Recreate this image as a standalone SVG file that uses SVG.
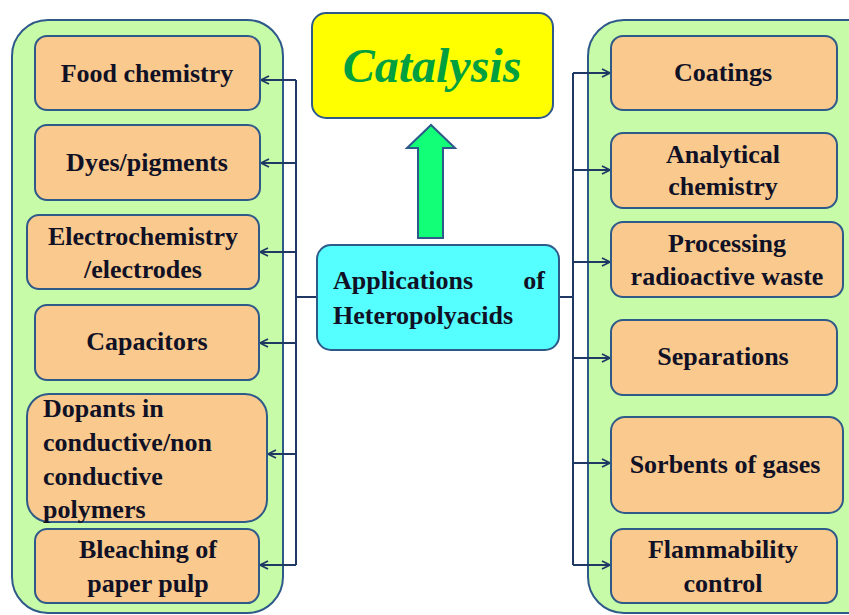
<svg xmlns="http://www.w3.org/2000/svg" width="849" height="615" viewBox="0 0 849 615">
<defs>
<marker id="ah" viewBox="0 0 10 10" refX="9" refY="5" markerWidth="10" markerHeight="10" markerUnits="userSpaceOnUse" orient="auto">
<path d="M1,1 L9,5 L1,9" fill="none" stroke="#1f3864" stroke-width="1.8"/>
</marker>
<style>
.cont{fill:#c8fba8;stroke:#2e5a8a;stroke-width:2}
.box{fill:#f9c98e;stroke:#2e5a8a;stroke-width:2}
.t{font-family:"Liberation Serif",serif;font-weight:bold;font-size:26px;fill:#111126}
.c{text-anchor:middle}
.con{fill:none;stroke:#1f3864;stroke-width:2}
</style>
</defs>
<rect width="849" height="615" fill="#ffffff"/>
<rect class="cont" x="12" y="20" width="271" height="593" rx="36"/>
<rect class="cont" x="588" y="20" width="300" height="593" rx="36"/>
<g id="connectors">
<path class="con" d="M317,297 H296 M296,80 V565 M573,73 V565 M559,297 H573"/>
<path class="con" marker-end="url(#ah)" d="M296,80 H261"/>
<path class="con" marker-end="url(#ah)" d="M296,163 H261"/>
<path class="con" marker-end="url(#ah)" d="M296,252 H260"/>
<path class="con" marker-end="url(#ah)" d="M296,343 H260"/>
<path class="con" marker-end="url(#ah)" d="M296,454 H268"/>
<path class="con" marker-end="url(#ah)" d="M296,565 H260"/>
<path class="con" marker-end="url(#ah)" d="M573,73 H610"/>
<path class="con" marker-end="url(#ah)" d="M573,170 H610"/>
<path class="con" marker-end="url(#ah)" d="M573,262 H610"/>
<path class="con" marker-end="url(#ah)" d="M573,358 H610"/>
<path class="con" marker-end="url(#ah)" d="M573,463 H610"/>
<path class="con" marker-end="url(#ah)" d="M573,565 H610"/>
<path d="M418,238 V148 H407 L431,125 L455,148 H443 V238 Z" fill="#12ff78" stroke="#2e5a8a" stroke-width="2"/>
</g>
<g id="catalysis">
<rect x="312" y="13" width="241" height="105" rx="14" fill="#ffff00" stroke="#2e5a8a" stroke-width="2"/>
<text x="432" y="82" text-anchor="middle" font-family="Liberation Serif, serif" font-weight="bold" font-style="italic" font-size="48" fill="#00a040">Catalysis</text>
</g>
<g id="center">
<rect x="317" y="245" width="242" height="105" rx="14" fill="#55ffff" stroke="#2e5a8a" stroke-width="2"/>
<text class="t" x="333" y="289">Applications</text>
<text class="t" x="545" y="289" text-anchor="end">of</text>
<text class="t" x="333" y="324">Heteropolyacids</text>
</g>
<g id="food"><rect class="box" x="35" y="36" width="225" height="74" rx="12"/><text class="t c" x="147" y="82">Food chemistry</text></g>
<g id="dyes"><rect class="box" x="35" y="125" width="225" height="75" rx="12"/><text class="t c" x="147" y="171">Dyes/pigments</text></g>
<g id="electro"><rect class="box" x="27" y="215" width="232" height="74" rx="12"/><text class="t c" x="143" y="245">Electrochemistry</text><text class="t c" x="143" y="278">/electrodes</text></g>
<g id="capacitors"><rect class="box" x="35" y="305" width="224" height="75" rx="12"/><text class="t c" x="147" y="350">Capacitors</text></g>
<g id="dopants"><rect class="box" x="27" y="394" width="240" height="128" rx="22"/><text class="t" x="43" y="417">Dopants in</text><text class="t" x="43" y="451">conductive/non</text><text class="t" x="43" y="485">conductive</text><text class="t" x="43" y="518">polymers</text></g>
<g id="bleaching"><rect class="box" x="35" y="529" width="224" height="74" rx="12"/><text class="t c" x="148" y="558">Bleaching of</text><text class="t c" x="148" y="592">paper pulp</text></g>
<g id="coatings"><rect class="box" x="611" y="36" width="226" height="74" rx="12"/><text class="t c" x="723" y="81">Coatings</text></g>
<g id="analytical"><rect class="box" x="611" y="133" width="226" height="75" rx="12"/><text class="t c" x="723" y="163">Analytical</text><text class="t c" x="723" y="195">chemistry</text></g>
<g id="processing"><rect class="box" x="611" y="222" width="232" height="75" rx="12"/><text class="t c" x="727" y="252">Processing</text><text class="t c" x="727" y="285">radioactive waste</text></g>
<g id="separations"><rect class="box" x="611" y="320" width="226" height="75" rx="12"/><text class="t c" x="723" y="365">Separations</text></g>
<g id="sorbents"><rect class="box" x="611" y="417" width="232" height="96" rx="14"/><text class="t c" x="725" y="473">Sorbents of gases</text></g>
<g id="flammability"><rect class="box" x="611" y="529" width="226" height="74" rx="12"/><text class="t c" x="723" y="558">Flammability</text><text class="t c" x="723" y="592">control</text></g>
</svg>
